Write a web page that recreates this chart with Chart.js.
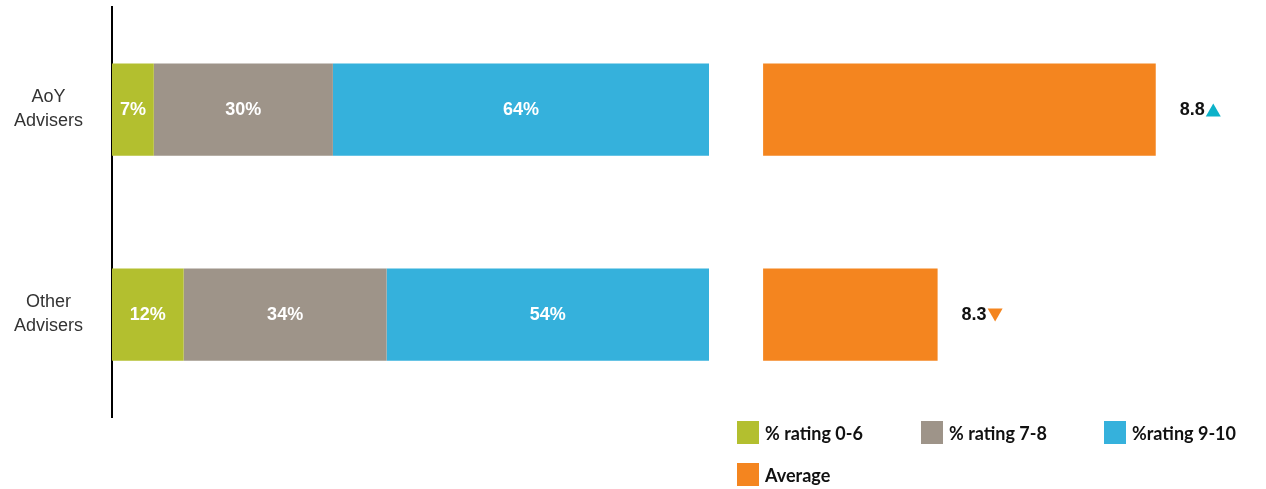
<!DOCTYPE html>
<html lang="en">
<head>
<meta charset="utf-8">
<title>Adviser ratings</title>
<script src="https://cdn.jsdelivr.net/npm/chart.js"></script>
<style>
  html, body { margin: 0; padding: 0; background: #fff; }
  #wrap { position: relative; width: 1266px; height: 489px; }
  #myChart { display: block; }
  #legend {
    position: absolute; left: 737px; top: 421px;
    display: grid; grid-template-columns: 184px 183px auto; row-gap: 19px;
    font: bold 18px Lato, "Open Sans", sans-serif; color: #111;
  }
  .item { display: flex; align-items: center; height: 23px; white-space: nowrap; }
  .box { width: 22px; height: 23px; margin-right: 6px; }
</style>
</head>
<body>
<div id="wrap">
  <canvas id="myChart" width="1266" height="489"></canvas>
  <div id="legend"></div>
</div>

<script>
    // rows
    const groups = [['AoY', 'Advisers'], ['Other', 'Advisers']];

    // share of ratings per row (%)
    const seriesNames = ['% rating 0-6', '% rating 7-8', '%rating 9-10'];
    const low = [7, 12];
    const mid = [30, 34];
    const high = [64, 54];

    // average rating per row and its direction
    const averageName = 'Average';
    const average = [8.8, 8.3];
    const averageTrend = ['up', 'down'];

    const colors = ['#b3bf2f', '#9e9489', '#35b1dc'];
    const averageColor = '#f4851f';
    const trendColors = { up: '#0cb2c9', down: '#f4851f' };

    const labelFont = '"Liberation Sans", Arial, sans-serif';

    // value labels: % inside the stacked bars, average + arrow after the orange bars
    const barLabels = {
        id: 'barLabels',
        afterDatasetsDraw(chart) {
            const ctx = chart.ctx;
            ctx.save();
            ctx.textBaseline = 'middle';
            chart.data.datasets.forEach((ds, i) => {
                const meta = chart.getDatasetMeta(i);
                meta.data.forEach((bar, j) => {
                    const v = ds.data[j];
                    if (ds.xAxisID === 'x') {
                        const right = Math.min(bar.x, meta.xScale.right);
                        ctx.font = 'bold 18px ' + labelFont;
                        ctx.fillStyle = '#fff';
                        ctx.textAlign = 'center';
                        ctx.fillText(v + '%', (bar.base + right) / 2, bar.y + 1);
                    } else {
                        const tx = bar.x + 24;
                        ctx.font = 'bold 18px ' + labelFont;
                        ctx.fillStyle = '#111';
                        ctx.textAlign = 'left';
                        ctx.fillText(v.toFixed(1), tx, bar.y + 1);
                        const w = ctx.measureText(v.toFixed(1)).width;
                        const x0 = tx + w + 1, top = bar.y - 6, bottom = bar.y + 7;
                        ctx.fillStyle = trendColors[averageTrend[j]];
                        ctx.beginPath();
                        if (averageTrend[j] === 'up') {
                            ctx.moveTo(x0, bottom);
                            ctx.lineTo(x0 + 15, bottom);
                            ctx.lineTo(x0 + 7.5, top);
                        } else {
                            ctx.moveTo(x0, top);
                            ctx.lineTo(x0 + 15, top);
                            ctx.lineTo(x0 + 7.5, bottom);
                        }
                        ctx.closePath();
                        ctx.fill();
                    }
                });
            });
            ctx.restore();
        }
    };

    const ctx = document.getElementById('myChart');

    new Chart(ctx, {
        type: 'bar',
        data: {
            labels: groups,
            datasets: [
                { label: seriesNames[0], data: low, backgroundColor: colors[0], xAxisID: 'x' },
                { label: seriesNames[1], data: mid, backgroundColor: colors[1], xAxisID: 'x' },
                { label: seriesNames[2], data: high, backgroundColor: colors[2], xAxisID: 'x' },
                { label: averageName, data: average, backgroundColor: averageColor, xAxisID: 'x2', base: 7.9 }
            ]
        },
        options: {
            indexAxis: 'y',
            responsive: false,
            animation: false,
            categoryPercentage: 0.5,
            barPercentage: 0.9,
            layout: { padding: { top: 7, bottom: 72, right: 23, left: 0 } },
            plugins: {
                legend: { display: false },
                tooltip: { enabled: false }
            },
            scales: {
                x: {
                    display: false,
                    stacked: true,
                    min: 0,
                    max: 100,
                    stack: 'values',
                    stackWeight: 597
                },
                x2: {
                    type: 'linear',
                    position: 'bottom',
                    display: false,
                    min: 7.776,
                    max: 9,
                    stack: 'values',
                    stackWeight: 534
                },
                y: {
                    stacked: true,
                    grid: { display: false, drawTicks: false },
                    border: { display: true, color: '#000', width: 2 },
                    ticks: {
                        color: '#333',
                        padding: 29,
                        crossAlign: 'center',
                        font: { family: labelFont, size: 18, lineHeight: 1.33 }
                    },
                    afterFit(scale) {
                        scale.width = 112;
                        // tick padding would otherwise push the plot down
                        scale.paddingTop = 0;
                        scale.paddingBottom = 0;
                    }
                }
            }
        },
        plugins: [barLabels]
    });

    // legend
    const legend = document.getElementById('legend');
    seriesNames.concat([averageName]).forEach((name, i) => {
        const item = document.createElement('div');
        item.className = 'item';
        const box = document.createElement('span');
        box.className = 'box';
        box.style.background = i < colors.length ? colors[i] : averageColor;
        item.appendChild(box);
        item.appendChild(document.createTextNode(name));
        legend.appendChild(item);
    });
</script>
</body>
</html>
